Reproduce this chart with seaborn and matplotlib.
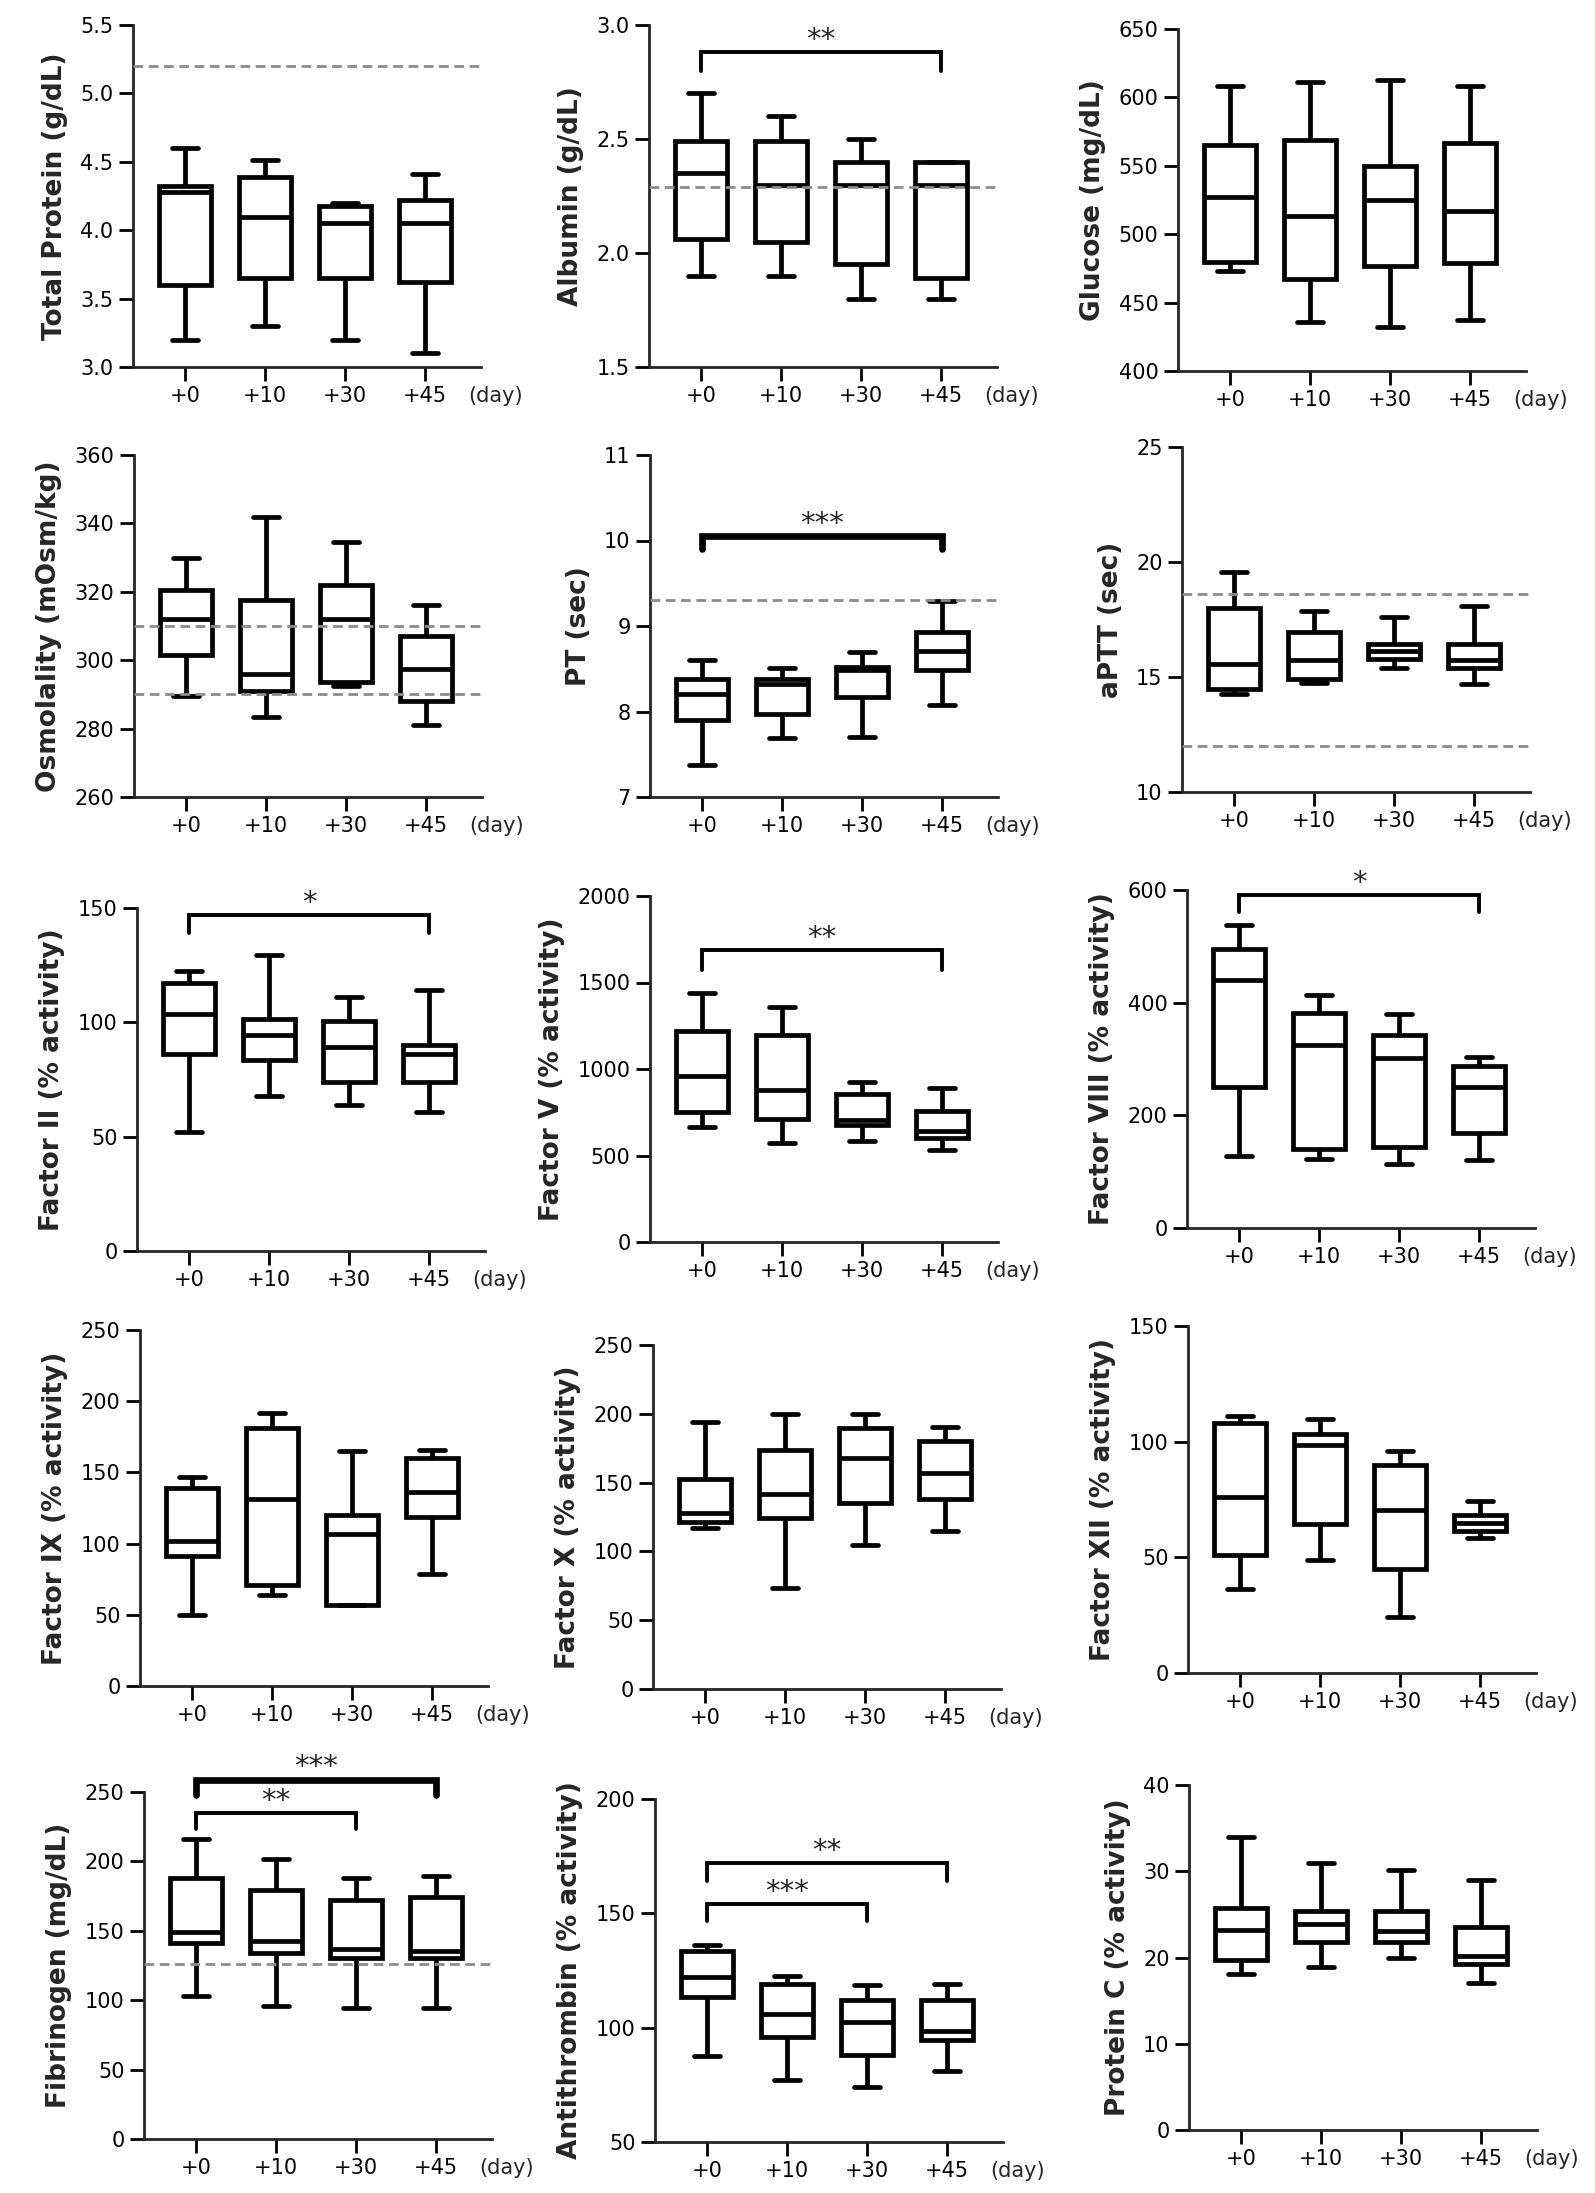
import numpy as np
import pandas as pd
import matplotlib
matplotlib.use('Agg')
import matplotlib.pyplot as plt
import seaborn as sns

# Sampling days
days = ['+0', '+10', '+30', '+45']

# Box summaries per day: min, q1, median, q3, max
total_protein = [[3.2, 3.6, 4.28, 4.32, 4.6], [3.3, 3.65, 4.1, 4.39, 4.51],
                 [3.2, 3.65, 4.05, 4.18, 4.2], [3.1, 3.62, 4.05, 4.22, 4.41]]
albumin = [[1.9, 2.06, 2.35, 2.49, 2.7], [1.9, 2.05, 2.3, 2.49, 2.6],
           [1.8, 1.95, 2.3, 2.4, 2.5], [1.8, 1.89, 2.3, 2.4, 2.4]]
glucose = [[473, 480, 527, 565, 608.5], [436, 467.5, 513, 568.5, 611],
           [432, 477, 525, 550, 613], [437, 479, 517, 567, 608]]
osmolality = [[289.5, 301.5, 312, 320.5, 330], [283.5, 291, 296, 317.5, 342],
              [292.5, 293.5, 312, 322, 334.5], [281, 288, 297.5, 307, 316]]
pt = [[7.38, 7.9, 8.2, 8.38, 8.6], [7.69, 7.97, 8.32, 8.38, 8.51],
      [7.7, 8.17, 8.48, 8.52, 8.7], [8.08, 8.48, 8.71, 8.93, 9.29]]
aptt = [[14.25, 14.5, 15.56, 18.0, 19.56], [14.76, 14.9, 15.73, 16.94, 17.86],
        [15.4, 15.8, 16.14, 16.43, 17.63], [14.69, 15.41, 15.73, 16.43, 18.08]]
factor_ii = [[52, 86, 103.5, 117, 122.5], [68, 83.5, 94.5, 101.5, 129.5],
             [64, 74, 89, 100.5, 111], [61, 74, 86, 90, 114]]
factor_v = [[667, 750, 960, 1217, 1440], [570, 711, 879, 1194, 1356],
            [585, 676, 705, 856, 924], [531, 603, 641, 759, 893]]
factor_viii = [[127, 250, 440, 496, 538], [123, 140, 324, 381, 413],
               [114, 144, 302, 342, 380], [121, 169, 250, 287, 303]]
factor_ix = [[50, 91.5, 101.5, 139, 147], [64, 71, 131.5, 181, 191.5],
             [57, 57, 107, 120, 165], [78.5, 119, 136, 160, 166]]
factor_x = [[116.8, 121.5, 128, 152.6, 194.3], [73.2, 124, 142, 173.7, 199.6],
            [104.6, 134.9, 168, 189.4, 199.6], [115, 137.8, 157.2, 180.5, 190.6]]
factor_xii = [[36.5, 51, 76, 108, 111], [49, 64.5, 98.5, 103.5, 110],
              [24, 45, 70.5, 90, 96], [58.5, 61.5, 65, 68.5, 74.5]]
fibrinogen = [[102.9, 140.9, 149, 188.3, 215.9], [95.6, 134.3, 142.8, 179.6, 202],
              [94.4, 130.7, 136.8, 172.3, 188], [94.4, 130.7, 135.6, 174.3, 189.5]]
antithrombin = [[87.5, 113.5, 122, 133.5, 136], [77, 96, 106, 119, 122.5],
                [74, 88, 102.5, 112, 118.5], [81, 94.5, 98.5, 112, 119]]
protein_c = [[18.05, 19.7, 23.2, 25.7, 34], [18.9, 21.8, 23.9, 25.4, 30.9],
             [20, 21.8, 23.1, 25.4, 30.1], [17, 19.2, 20.2, 23.5, 29]]

# reference ranges (dashed lines)
ref_total_protein = [5.2]
ref_albumin = [2.29]
ref_osmolality = [310, 290]
ref_pt = [9.3]
ref_aptt = [18.6, 12.0]
ref_fibrinogen = [126]

# significance brackets: (from day idx, to day idx, height, drop, label)
sig_albumin = [(0, 3, 2.88, 0.08, '**')]
sig_pt = [(0, 3, 10.05, 0.15, '***')]
sig_factor_ii = [(0, 3, 147, 8, '*')]
sig_factor_v = [(0, 3, 1685, 110, '**')]
sig_factor_viii = [(0, 3, 591, 30, '*')]
sig_fibrinogen = [(0, 3, 259, 11, '***'), (0, 2, 235, 12, '**')]
sig_antithrombin = [(0, 3, 172, 8, '**'), (0, 2, 154, 7.5, '***')]

# brackets that are printed heavier in the original figure
heavy = {('PT (sec)', '***'), ('Fibrinogen (mg/dL)', '***')}

sns.set_style('ticks')
plt.rcParams['font.family'] = ['DejaVu Sans']

W, H = 1595, 2193
fig = plt.figure(figsize=(W / 100, H / 100), dpi=100)

panels = [
    # ylabel, stats, ylim, yticks, fmt, refs, sigs, (left, top, bottom) px
    ('Total Protein (g/dL)', total_protein, (3.0, 5.5), [3.0, 3.5, 4.0, 4.5, 5.0, 5.5], '{:.1f}', ref_total_protein, [], (133, 25, 367)),
    ('Albumin (g/dL)', albumin, (1.5, 3.0), [1.5, 2.0, 2.5, 3.0], '{:.1f}', ref_albumin, sig_albumin, (649, 25, 367)),
    ('Glucose (mg/dL)', glucose, (400, 650), [400, 450, 500, 550, 600, 650], '{:.0f}', [], [], (1178, 29, 371)),
    ('Osmolality (mOsm/kg)', osmolality, (260, 360), [260, 280, 300, 320, 340, 360], '{:.0f}', ref_osmolality, [], (134, 455, 797)),
    ('PT (sec)', pt, (7, 11), [7, 8, 9, 10, 11], '{:.0f}', ref_pt, sig_pt, (650, 455, 797)),
    ('aPTT (sec)', aptt, (10, 25), [10, 15, 20, 25], '{:.0f}', ref_aptt, [], (1182, 447, 792)),
    ('Factor II (% activity)', factor_ii, (0, 150), [0, 50, 100, 150], '{:.0f}', [], sig_factor_ii, (137, 908, 1251)),
    ('Factor V (% activity)', factor_v, (0, 2000), [0, 500, 1000, 1500, 2000], '{:.0f}', [], sig_factor_v, (650, 896, 1242)),
    ('Factor VIII (% activity)', factor_viii, (0, 600), [0, 200, 400, 600], '{:.0f}', [], sig_factor_viii, (1187, 890, 1228)),
    ('Factor IX (% activity)', factor_ix, (0, 250), [0, 50, 100, 150, 200, 250], '{:.0f}', [], [], (140, 1330, 1686)),
    ('Factor X (% activity)', factor_x, (0, 250), [0, 50, 100, 150, 200, 250], '{:.0f}', [], [], (653, 1345, 1689)),
    ('Factor XII (% activity)', factor_xii, (0, 150), [0, 50, 100, 150], '{:.0f}', [], [], (1188, 1326, 1673)),
    ('Fibrinogen (mg/dL)', fibrinogen, (0, 250), [0, 50, 100, 150, 200, 250], '{:.0f}', ref_fibrinogen, sig_fibrinogen, (144, 1792, 2139)),
    ('Antithrombin (% activity)', antithrombin, (50, 200), [50, 100, 150, 200], '{:.0f}', [], sig_antithrombin, (655, 1799, 2142)),
    ('Protein C (% activity)', protein_c, (0, 40), [0, 10, 20, 30, 40], '{:.0f}', [], [], (1189, 1785, 2130)),
]

ax_w = 348

for ylabel, stats, ylim, yticks, fmt, refs, sigs, (left, top, bottom) in panels:
    ax = fig.add_axes([left / W, 1 - bottom / H, ax_w / W, (bottom - top) / H])
    df = pd.DataFrame({'day': np.repeat(days, 5), 'value': np.ravel(stats)})
    sns.boxplot(data=df, x='day', y='value', order=days, ax=ax, whis=(0, 100),
                width=0.64, color='white', linecolor='black', linewidth=3.4,
                saturation=1)
    for r in refs:
        ax.axhline(r, color='#8c8c8c', ls=(0, (3.5, 2)), lw=2, zorder=10)
    for x1, x2, y, drop, lab in sigs:
        lw = 4.8 if (ylabel, lab) in heavy else 2.8
        ax.plot([x1, x1, x2, x2], [y - drop, y, y, y - drop], color='black',
                lw=lw, clip_on=False, solid_joinstyle='miter')
        ax.annotate(lab, xy=((x1 + x2) / 2, y), xytext=(0, 3),
                    textcoords='offset points', ha='center', va='baseline',
                    fontsize=21, annotation_clip=False)
    ax.set_xlim(-0.65, 3.7)
    ax.set_ylim(ylim)
    ax.set_yticks(yticks)
    ax.set_yticklabels([fmt.format(t) for t in yticks])
    ax.set_xlabel('')
    ax.set_ylabel(ylabel, fontsize=19, fontweight='bold', labelpad=9)
    sns.despine(ax=ax)
    for s in ['left', 'bottom']:
        ax.spines[s].set_linewidth(2.0)
    ax.tick_params(axis='both', length=10, width=2.0, labelsize=15, pad=4,
                   colors='black')
    ax.annotate('(day)', xy=(1.0, 0), xycoords='axes fraction',
                xytext=(-9, -14), textcoords='offset points', ha='left',
                va='top', fontsize=15)

fig.savefig('out.png', dpi=100)
